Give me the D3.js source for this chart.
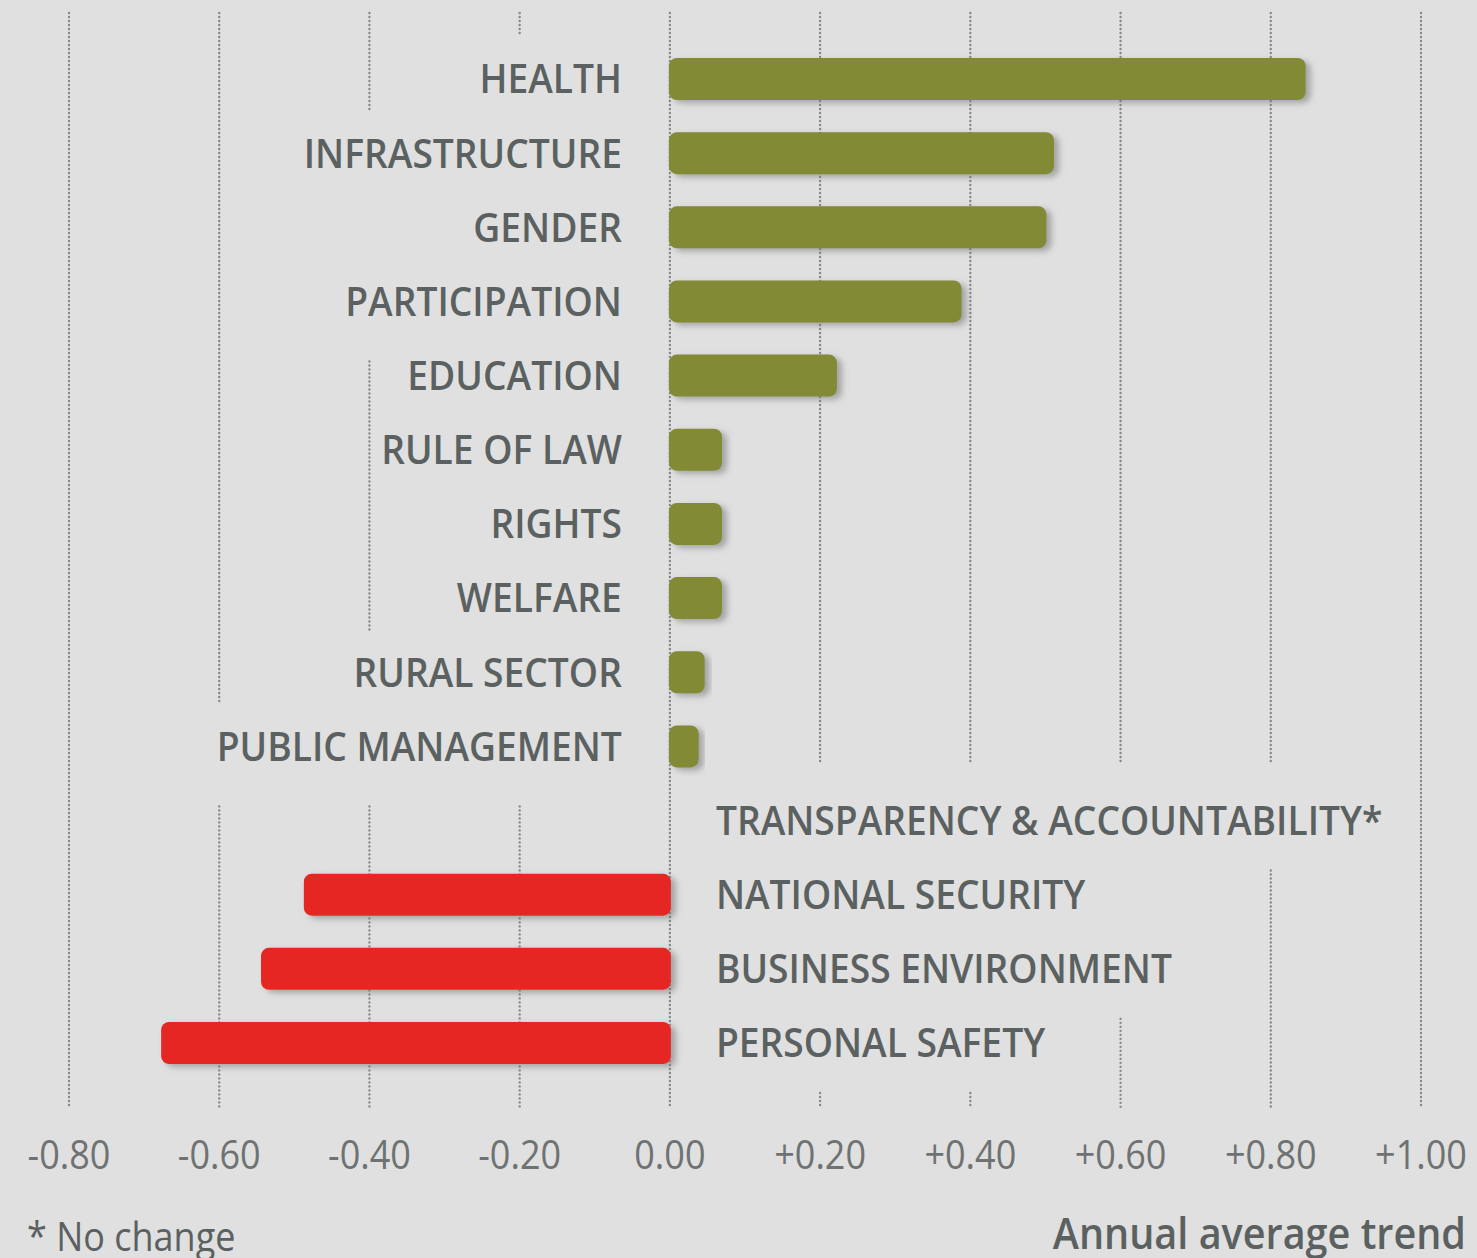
<!DOCTYPE html>
<html>
<head>
<meta charset="utf-8">
<script src="https://cdn.jsdelivr.net/npm/d3@7"></script>
<style>
  html, body { margin: 0; padding: 0; background: #dfe0df; }
  svg { display: block; }
  .label { font-family: "Open Sans", sans-serif; font-size: 40px; font-weight: 600; fill: #5b6060; }
  .tick-label { font-family: "Open Sans", sans-serif; font-size: 40px; fill: #6e7272; }
</style>
</head>
<body>
<div id="chart"></div>
<script>
// -----------------------------------------//
//                 Data
// -----------------------------------------//
var categories = ["HEALTH", "INFRASTRUCTURE", "GENDER", "PARTICIPATION", "EDUCATION",
  "RULE OF LAW", "RIGHTS", "WELFARE", "RURAL SECTOR", "PUBLIC MANAGEMENT",
  "TRANSPARENCY & ACCOUNTABILITY*", "NATIONAL SECURITY", "BUSINESS ENVIRONMENT", "PERSONAL SAFETY"];
var trendValues = [0.845, 0.51, 0.50, 0.387, 0.221, 0.068, 0.068, 0.068, 0.045, 0.037,
  0.0, -0.486, -0.543, -0.676];
var tickValues = [-0.8, -0.6, -0.4, -0.2, 0.0, 0.2, 0.4, 0.6, 0.8, 1.0];
var tickLabels = ["-0.80", "-0.60", "-0.40", "-0.20", "0.00", "+0.20", "+0.40", "+0.60", "+0.80", "+1.00"];
var footNote = "* No change";
var axisTitle = "Annual average trend";

// -----------------------------------------//
//              SVG setup
// -----------------------------------------//
var svgWidth = 1477;
var svgHeight = 1258;
var labelSqueeze = 0.93;  // original uses a condensed face
var tickSqueeze = 0.9;

var svg = d3.select("#chart").append("svg")
  .attr("width", svgWidth)
  .attr("height", svgHeight);

svg.append("rect").attr("width", svgWidth).attr("height", svgHeight).attr("fill", "#dfe0df");

var defs = svg.append("defs");
defs.append("filter")
  .attr("id", "shadow")
  .attr("x", "-10%").attr("y", "-30%").attr("width", "130%").attr("height", "170%")
  .append("feDropShadow")
  .attr("dx", 5).attr("dy", 3)
  .attr("stdDeviation", 3)
  .attr("flood-color", "#6f6f6f")
  .attr("flood-opacity", 0.55);

var xScale = d3.scaleLinear().domain([-0.8, 1.0]).range([69, 1421]);
var yScale = d3.scalePoint().domain(categories).range([79, 1043]);
var barHeight = 42;

var gridTop = yScale(categories[0]) - 66;
var gridBottom = yScale(categories[categories.length - 1]) + 64;

var gridGroup = svg.append("g");
var barGroup = svg.append("g");
var labelGroup = svg.append("g");

// -----------------------------------------//
//              Category labels
// -----------------------------------------//
var data = categories.map(function(c, i) { return { name: c, value: trendValues[i] }; });

var labels = labelGroup.selectAll("text")
  .data(data)
  .enter()
  .append("text")
  .classed("label", true)
  .attr("text-anchor", d => d.value > 0 ? "end" : "start")
  .attr("dy", "0.36em")
  .attr("transform", d => `translate(${d.value > 0 ? xScale(0) - 48 : xScale(0) + 46}, ${yScale(d.name)}) scale(${labelSqueeze},1)`)
  .text(d => d.name);

// horizontal extent of each label, used to break the gridlines behind text
labels.each(function(d) {
  var w = this.getComputedTextLength() * labelSqueeze;
  if (d.value > 0) { d.left = xScale(0) - 48 - w; d.right = xScale(0) - 48; }
  else { d.left = xScale(0) + 46; d.right = xScale(0) + 46 + w; }
});

// -----------------------------------------//
//              Gridlines
// -----------------------------------------//
tickValues.forEach(function(t) {
  var tx = xScale(t);
  var covered = [];
  data.forEach(function(d, i) {
    if (tx > d.left - 6 && tx < d.right + 6) covered.push(i);
  });
  // merge covered rows into runs (one free row may sit inside a run)
  var runs = [];
  covered.forEach(function(i) {
    var last = runs[runs.length - 1];
    if (last && i - last[1] <= 2) last[1] = i;
    else runs.push([i, i]);
  });
  var segs = [];
  var start = gridTop;
  runs.forEach(function(r) {
    var left = data[r[0]].value > 0;
    var g0 = yScale(categories[r[0]]) - (left ? 42 : 56);
    var g1 = yScale(categories[r[1]]) + (left ? 60 : 50);
    if (g0 > start) segs.push([start, g0]);
    start = g1;
  });
  if (start < gridBottom) segs.push([start, gridBottom]);

  gridGroup.selectAll(null)
    .data(segs)
    .enter()
    .append("line")
    .attr("x1", tx).attr("x2", tx)
    .attr("y1", s => s[0]).attr("y2", s => s[1])
    .attr("stroke", "#858888")
    .attr("stroke-width", 2.4)
    .attr("stroke-linecap", "round")
    .attr("stroke-dasharray", "0,4");
});

// -----------------------------------------//
//              Bars
// -----------------------------------------//
barGroup.selectAll("rect")
  .data(data.filter(d => d.value !== 0))
  .enter()
  .append("rect")
  .attr("x", d => xScale(Math.min(0, d.value)) - 1)
  .attr("y", d => yScale(d.name) - barHeight / 2)
  .attr("width", d => Math.abs(xScale(d.value) - xScale(0)) + 2)
  .attr("height", barHeight)
  .attr("rx", 8)
  .attr("ry", 8)
  .attr("fill", d => d.value > 0 ? "#838a34" : "#e52521")
  .attr("filter", "url(#shadow)");

// -----------------------------------------//
//              X axis labels
// -----------------------------------------//
svg.append("g").selectAll("text")
  .data(tickValues)
  .enter()
  .append("text")
  .classed("tick-label", true)
  .attr("text-anchor", "middle")
  .attr("transform", (d, i) => `translate(${xScale(d)}, ${gridBottom + 62}) scale(${tickSqueeze},1)`)
  .text((d, i) => tickLabels[i]);

svg.append("text")
  .classed("tick-label", true)
  .attr("transform", `translate(27, ${svgHeight - 7}) scale(${tickSqueeze},1)`)
  .style("fill", "#5b6060")
  .text(footNote);

svg.append("text")
  .classed("label", true)
  .attr("text-anchor", "end")
  .style("font-size", "44px")
  .attr("transform", `translate(1466, ${svgHeight - 9}) scale(${tickSqueeze},1)`)
  .text(axisTitle);
</script>
</body>
</html>
